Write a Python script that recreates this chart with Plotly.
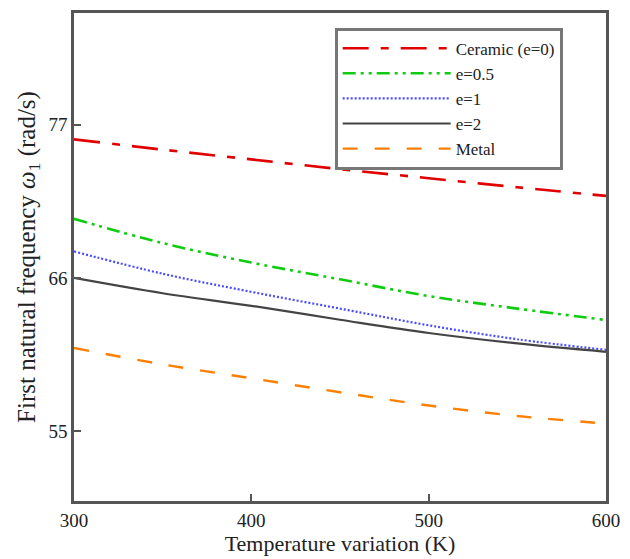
import plotly.graph_objects as go

# Temperature variation (K)
temperature = [300, 350, 400, 450, 500, 550, 600]

# First natural frequency (rad/s) for each material gradient
ceramic = [75.94, 75.2, 74.5, 73.8, 73.15, 72.5, 71.88]
e_05 = [70.24, 68.5, 67.1, 65.9, 64.7, 63.8, 62.98]
e_1 = [67.9, 66.3, 65.0, 63.8, 62.6, 61.6, 60.84]
e_2 = [66.0, 64.9, 64.0, 63.0, 62.05, 61.3, 60.7]
metal = [60.98, 59.8, 58.8, 57.8, 56.85, 56.1, 55.55]

y_ticks = [55, 66, 77]
x_ticks = [300, 400, 500, 600]

series = [
    ("Ceramic (e=0)", ceramic, "#e00000", "26px,12px,8px,12px", 2.6),
    ("e=0.5", e_05, "#10cc10", "13px,5px,3px,5px,3px,5px", 2.6),
    ("e=1", e_1, "#4a4aff", "2px,2px", 2.2),
    ("e=2", e_2, "#444444", None, 2.2),
    ("Metal", metal, "#ff8000", "15px,17px", 2.4),
]

fig = go.Figure()
for name, values, color, dash, width in series:
    fig.add_trace(go.Scatter(
        x=temperature, y=values, name=name, mode="lines",
        line=dict(color=color, width=width, dash=dash or "solid", shape="spline"),
    ))

serif = "Liberation Serif"

fig.update_layout(
    width=630, height=559,
    margin=dict(l=74, r=15, t=10, b=55),
    paper_bgcolor="white", plot_bgcolor="white",
    font=dict(family=serif, size=19, color="#222"),
    showlegend=True,
    legend=dict(
        x=0.49, y=0.97, xanchor="left", yanchor="top",
        bordercolor="#777", borderwidth=3, bgcolor="white",
        font=dict(family=serif, size=17, color="#222"),
        itemwidth=108, tracegroupgap=0,
    ),
    xaxis=dict(
        range=[300, 600], tickvals=x_ticks,
        ticks="inside", ticklen=7, tickwidth=1.5, tickcolor="#555",
        showline=True, linecolor="#555", linewidth=2.5, mirror=True,
        showgrid=False, zeroline=False,
        tickfont=dict(family=serif, size=19, color="#222"),
        title=dict(text="Temperature variation (K)", font=dict(family=serif, size=22, color="#222"), standoff=3),
    ),
    yaxis=dict(
        range=[50, 85], tickvals=y_ticks,
        ticks="inside", ticklen=7, tickwidth=1.5, tickcolor="#555",
        showline=True, linecolor="#555", linewidth=2.5, mirror=True,
        showgrid=False, zeroline=False,
        tickfont=dict(family=serif, size=19, color="#222"),
        title=dict(text="First natural frequency <i>ω</i><sub>1</sub> (rad/s)",
                   font=dict(family=serif, size=25, color="#222"), standoff=6),
    ),
)

fig.write_html("out.html")
